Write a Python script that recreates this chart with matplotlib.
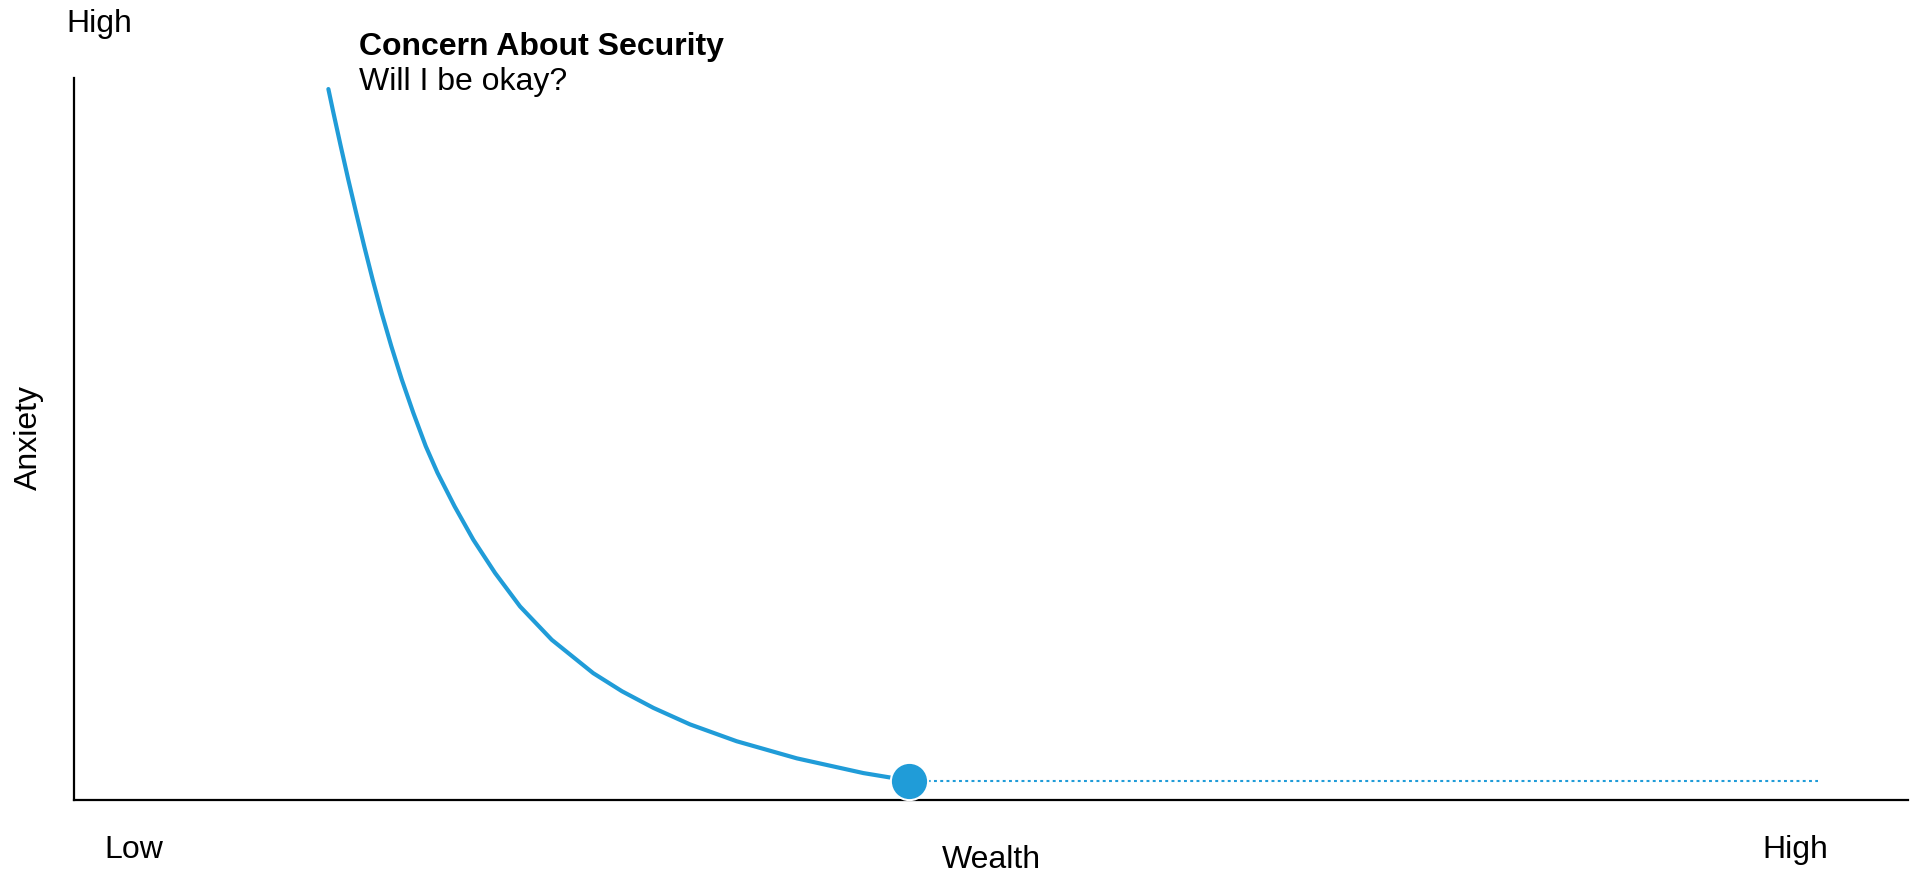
#!/usr/bin/env python3
"""
Wealth vs anxiety curve: concern about security
"""

import matplotlib.pyplot as plt

plt.rcParams['font.family'] = ['Liberation Sans', 'DejaVu Sans']

BLUE = '#209CD8'
W, H = 1915, 872

# Curve (0-100 scale on both axes)
wealth = [13.87, 14.14, 14.54, 14.95, 15.38, 15.82, 16.28, 16.77, 17.30,
          17.87, 18.50, 19.18, 19.82, 20.75, 21.77, 22.96, 24.32, 26.05,
          28.31, 29.88, 31.59, 33.59, 36.13, 39.41, 43.04, 45.54]
anxiety = [98.47, 95.24, 90.61, 85.99, 81.37, 76.74, 72.12, 67.50, 62.87,
           58.25, 53.63, 49.00, 45.31, 40.68, 36.06, 31.44, 26.81, 22.19,
           17.57, 15.06, 12.76, 10.47, 8.14, 5.77, 3.73, 2.68]

# Plateau after the point of security
plateau_x = [45.54, 95.1]
plateau_y = [2.68, 2.68]

x_labels = ['Low', 'High']


def px(x, y):
    """figure pixel (from top-left) -> figure fraction"""
    return x / W, 1 - y / H


fig = plt.figure(figsize=(W / 100, H / 100), dpi=100)
ax = fig.add_axes([74 / W, 72 / H, 1834 / W, 722 / H])

ax.plot(wealth, anxiety, color=BLUE, linewidth=3.0, solid_capstyle='round',
        solid_joinstyle='round', zorder=2)
ax.plot(plateau_x, plateau_y, color=BLUE, linewidth=1.5,
        linestyle=(0, (1.4, 1.6)), zorder=1)
ax.scatter([wealth[-1]], [anxiety[-1]], s=720, color=BLUE,
           edgecolor='white', linewidth=1.5, zorder=3)

ax.set_xlim(0, 100)
ax.set_ylim(0, 100)
ax.set_xticks([])
ax.set_yticks([])
for side in ['top', 'right']:
    ax.spines[side].set_visible(False)
for side in ['left', 'bottom']:
    ax.spines[side].set_linewidth(1.6)
    ax.spines[side].set_color('black')

fs = 23
# axis end labels
fig.text(*px(99, 32), 'High', ha='center', va='baseline', fontsize=fs)
fig.text(*px(134, 858), x_labels[0], ha='center', va='baseline', fontsize=fs)
fig.text(*px(1795, 858), x_labels[1], ha='center', va='baseline', fontsize=fs)
fig.text(*px(991, 868), 'Wealth', ha='center', va='baseline', fontsize=fs)
fig.text(*px(29, 437), 'Anxiety', ha='center', va='center',
         rotation=90, fontsize=fs)

# annotation
fig.text(*px(359, 55), 'Concern About Security', ha='left', va='baseline',
         fontsize=fs, weight='bold')
fig.text(*px(359, 90), 'Will I be okay?', ha='left', va='baseline', fontsize=fs)

plt.savefig('out.png', dpi=100, facecolor='white')
plt.close()
